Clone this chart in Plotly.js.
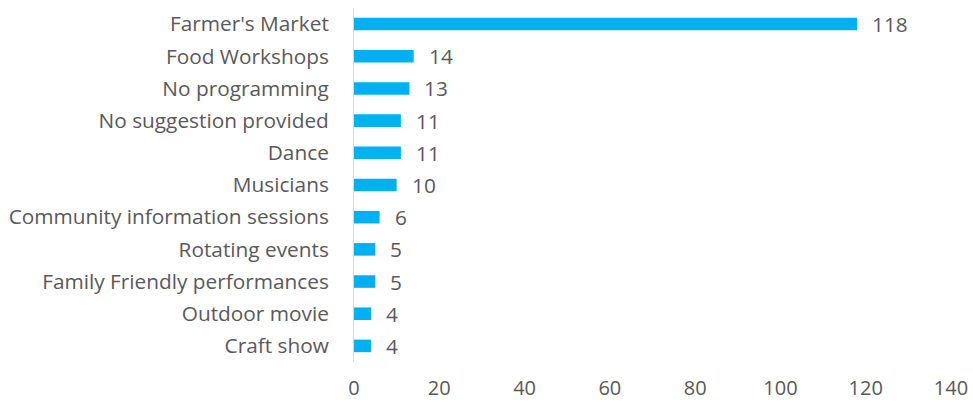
<!DOCTYPE html>
<html><head><meta charset="utf-8">
<script src="https://cdn.plot.ly/plotly-3.0.1.min.js"></script>
<style>html,body{margin:0;padding:0;background:#fff}#c{width:973px;height:405px}</style>
</head><body><div id="c"></div>
<script>
const categories = ["Farmer's Market","Food Workshops","No programming","No suggestion provided","Dance","Musicians","Community information sessions","Rotating events","Family Friendly performances","Outdoor movie","Craft show"];
const counts = [118,14,13,11,11,10,6,5,5,4,4];
const xTicks = [0,20,40,60,80,100,120,140];

const font = {family:"'Open Sans', sans-serif", size:20.8, color:"#595959"};
const xFont = {family:"'Open Sans', sans-serif", size:20, color:"#595959"};
const annotations = categories.map((c,i)=>({x:counts[i], y:c, text:String(counts[i]), showarrow:false, xanchor:'left', yanchor:'middle', xshift:13, font:font}));

Plotly.newPlot('c', [{
  type:'bar', orientation:'h', x:counts, y:categories,
  marker:{color:'#00B0F0'}, width:0.39, hoverinfo:'none'
}], {
  width:973, height:405,
  margin:{l:354, r:22, t:8, b:43},
  paper_bgcolor:'#fff', plot_bgcolor:'#fff',
  font:font, showlegend:false,
  xaxis:{range:[0,140], tickvals:xTicks, showgrid:false, zeroline:false, showline:false, ticks:'', ticklabelstandoff:12, tickfont:xFont},
  yaxis:{autorange:'reversed', type:'category', showgrid:false, zeroline:false, showline:true, linecolor:'#D9D9D9', linewidth:1, ticks:'', ticklabelstandoff:20, tickfont:font},
  annotations:annotations
}, {staticPlot:true});
</script></body></html>
